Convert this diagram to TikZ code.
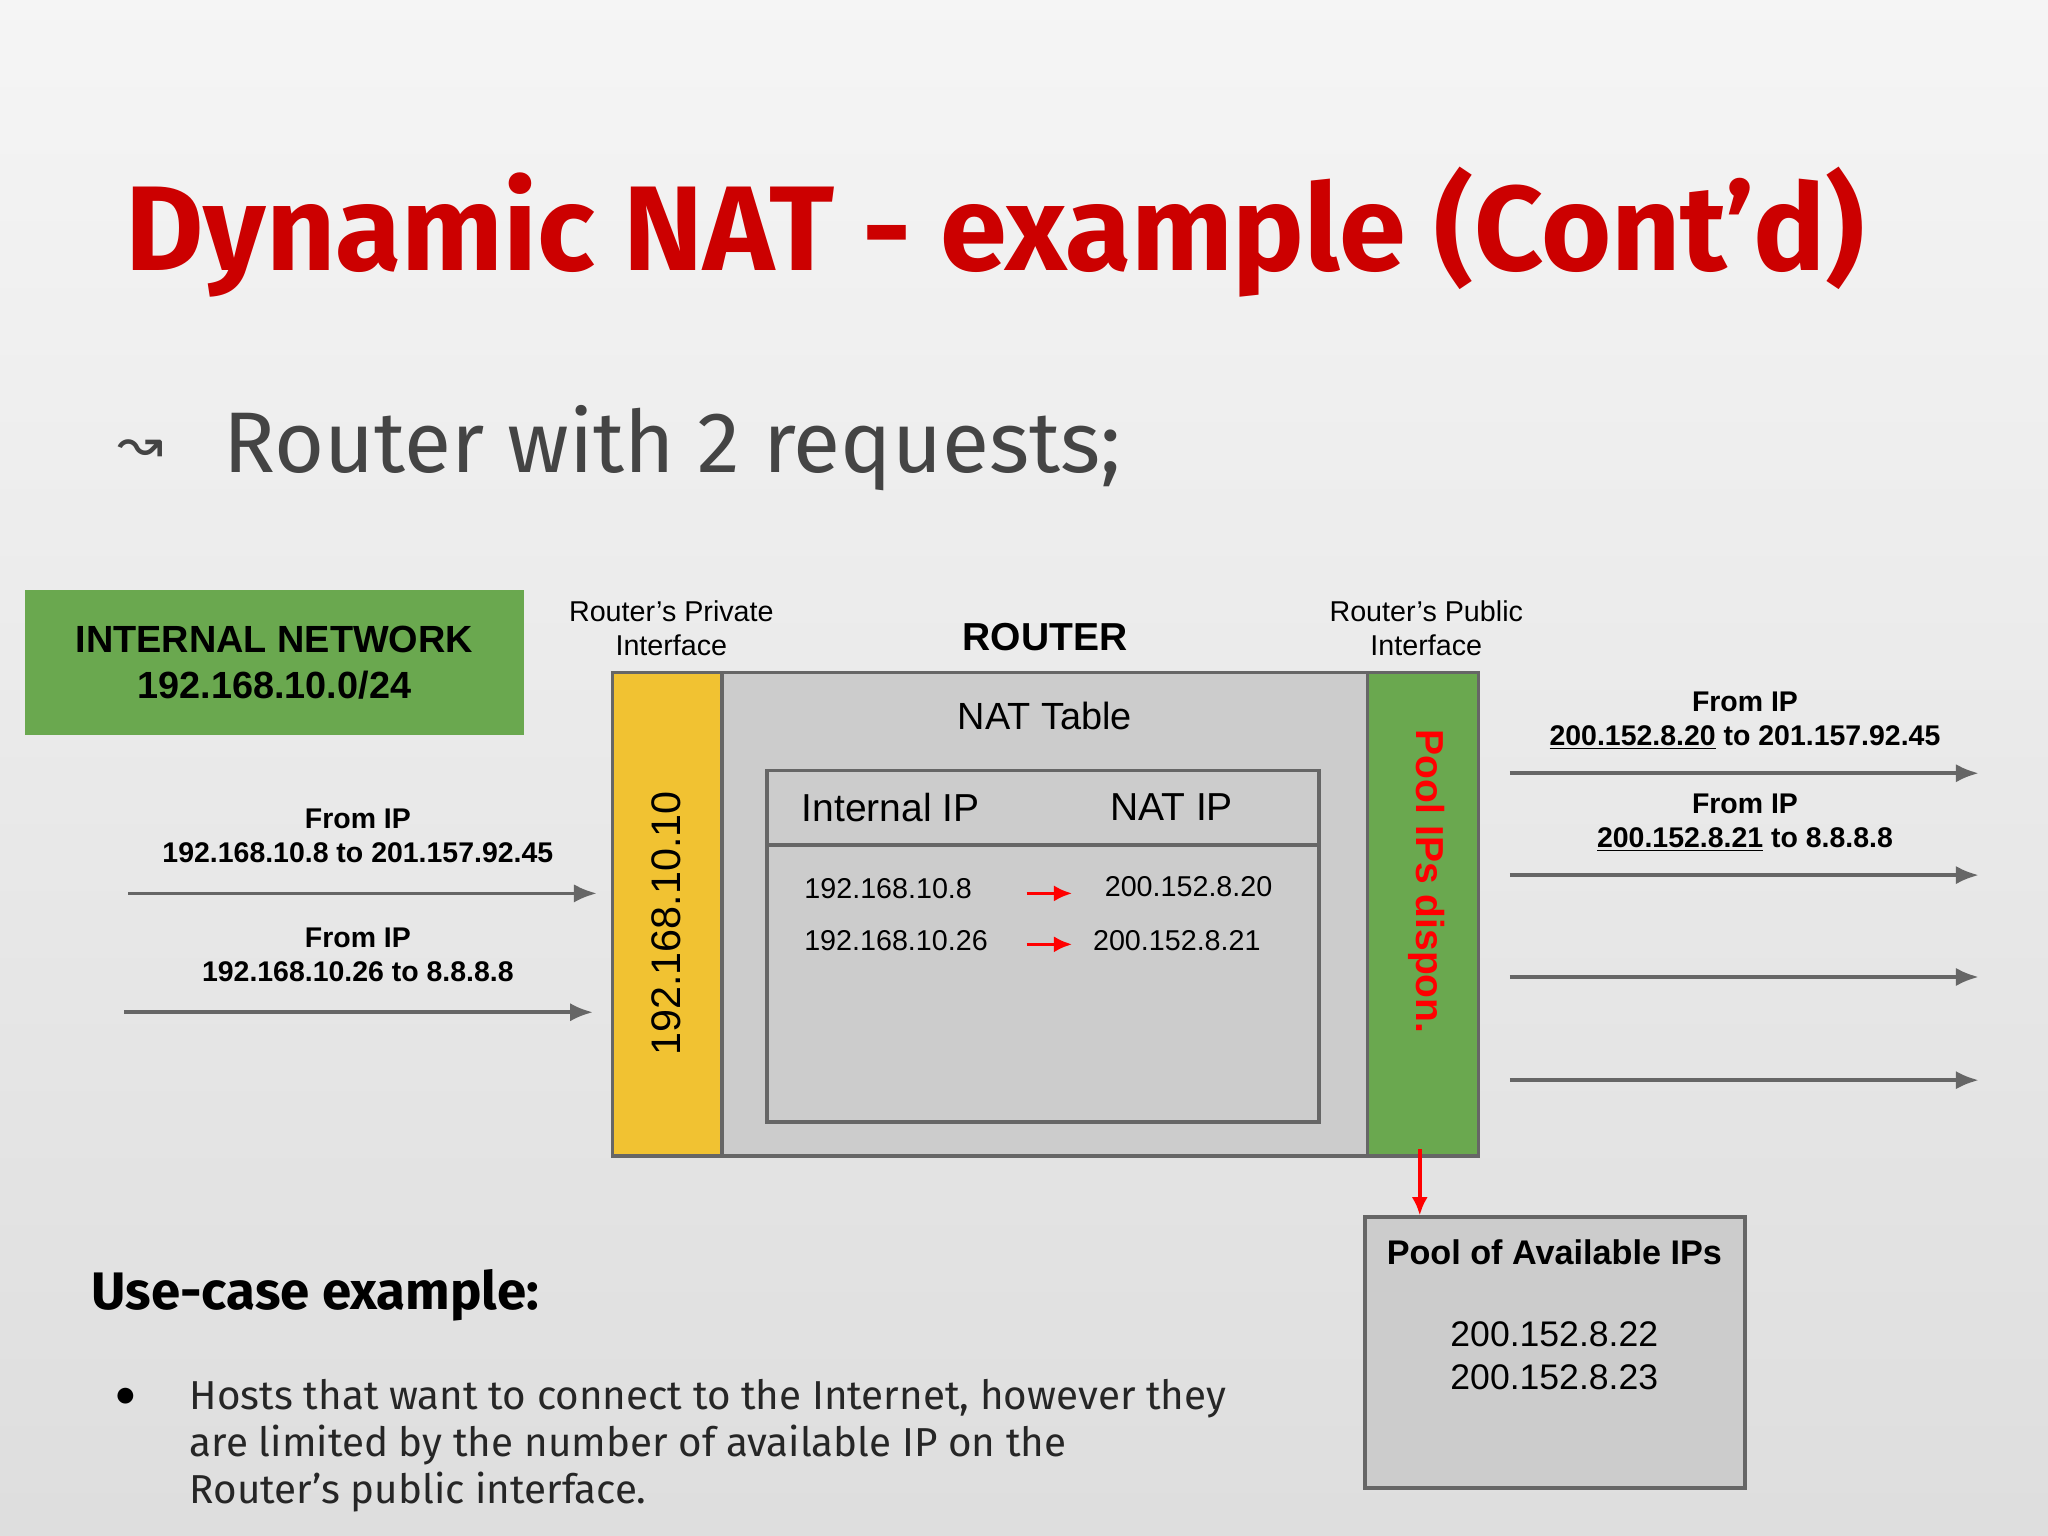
\documentclass[tikz,border=0pt]{standalone}
\usepackage{fontspec}
\setmainfont{Liberation Sans}
\newfontfamily\ubu{Fira Sans}
\newfontfamily\dejavu{DejaVu Sans}
\usetikzlibrary{arrows.meta}
\definecolor{tred}{HTML}{CC0000}
\definecolor{gbox}{HTML}{6AA84F}
\definecolor{ybox}{HTML}{F1C232}
\definecolor{rgray}{HTML}{CCCCCC}
\definecolor{edge}{HTML}{666666}
\definecolor{txt}{HTML}{444444}
\begin{document}
\begin{tikzpicture}[x=0.02cm,y=-0.02cm,
  fs/.style={font=\fontsize{#1}{1.2\dimexpr#1pt\relax}\selectfont},
  bfs/.style={font=\bfseries\fontsize{#1}{1.2\dimexpr#1pt\relax}\selectfont},
  garrow/.style={draw=edge,line width=1.6pt,-{Latex[length=10pt,width=8pt]}},
  rarrow/.style={draw=red,line width=1.6pt,-{Latex[length=8pt,width=7pt]}},
  boxs/.style={draw=edge,line width=1.6pt}]
\shade[top color=black!4,bottom color=black!13] (0,0) rectangle (1568,1176);
\useasboundingbox (0,0) rectangle (1568,1176);
\node[font=\ubu\bfseries\fontsize{52.5}{60}\selectfont,text=tred] (title) at (762,178) {Dynamic NAT - example (Cont’d)};
\node[anchor=west,font=\dejavu\fontsize{24}{26}\selectfont,text=txt] (bsym) at (84,345) {↝};
\node[anchor=west,font=\ubu\fontsize{37.5}{44}\selectfont,text=txt] (sub) at (165,343) {Router with 2 requests;};
\node[fill=gbox,minimum width=382*0.02cm,minimum height=111*0.02cm,align=center,bfs=16.5] (net) at (210,507.5) {INTERNAL NETWORK\\192.168.10.0/24};
% router
\draw[boxs,fill=rgray] (469,515) rectangle (1132,885);
\draw[boxs,fill=ybox] (469,515) rectangle (553,885);
\draw[boxs,fill=gbox] (1047,515) rectangle (1132,885);
\node[rotate=90,fs=18] (priv) at (510,707) {192.168.10.10};
\node[rotate=-90,bfs=17,text=red] (pub) at (1092,675) {Pool IPs dispon.};
\node[fs=16.5] (natt) at (800,548) {NAT Table};
\draw[boxs] (587,590) rectangle (1010,859);
\draw[boxs] (587,647) -- (1010,647);
\node[fs=17] (hi) at (682,618) {Internal IP};
\node[fs=17] (hn) at (897,618) {NAT IP};
\node[fs=12.5] (r1a) at (680,680) {192.168.10.8};
\node[fs=12.5] (r1b) at (910,679) {200.152.8.20};
\node[fs=12.5] (r2a) at (686,720) {192.168.10.26};
\node[fs=12.5] (r2b) at (901,720) {200.152.8.21};
\coordinate (a1s) at (786,684); \coordinate (a1e) at (821,684);
\coordinate (a2s) at (786,723); \coordinate (a2e) at (821,723);
\draw[rarrow] (a1s) -- (a1e);
\draw[rarrow] (a2s) -- (a2e);
\node[fs=12.5,align=center] (lp) at (514,481) {Router’s Private\\Interface};
\node[bfs=17] (rt) at (800,488) {ROUTER};
\node[fs=12.5,align=center] (lpub) at (1092,481) {Router’s Public\\Interface};
% left
\coordinate (l1s) at (98,684); \coordinate (l1e) at (457,684);
\coordinate (l2s) at (95,775); \coordinate (l2e) at (454,775);
\draw[garrow] (l1s) -- (l1e);
\draw[garrow] (l2s) -- (l2e);
\node[bfs=12.4,align=center] (lt1) at (274,640) {From IP\\192.168.10.8 to 201.157.92.45};
\node[bfs=12.4,align=center] (lt2) at (274,731) {From IP\\192.168.10.26 to 8.8.8.8};
% right
\foreach \y/\n in {592/1,670/2,748/3,827/4}{
  \coordinate (rs\n) at (1156,\y); \coordinate (re\n) at (1515,\y);
  \draw[garrow] (rs\n) -- (re\n);}
\node[bfs=12.4,align=center] (rt1) at (1336,552) {From IP\\\underline{200.152.8.20} to 201.157.92.45};
\node[bfs=12.4,align=center] (rt2) at (1336,630) {From IP\\\underline{200.152.8.21} to 8.8.8.8};
% pool
\node[boxs,fill=rgray,minimum width=291*0.02cm,minimum height=207*0.02cm] (pool) at (1190.5,1035.5) {};
\node[bfs=14.9] (pt) at (1190,959) {Pool of Available IPs};
\node[fs=15.5,align=center] (pips) at (1190,1038) {200.152.8.22\\200.152.8.23};
\coordinate (ds) at (1087,880);
\draw[rarrow] (ds) -- (pool.north -| ds);
% use case
\node[anchor=west,font=\ubu\bfseries\fontsize{23}{28}\selectfont] (uc) at (64,992) {Use-case example:};
\node[fs=16] (dot) at (96,1070) {●};
\node[anchor=north west,align=left,font=\ubu\fontsize{17.6}{20.4}\selectfont,text=black!85,inner sep=0] (bt) at (145,1056) {Hosts that want to connect to the Internet, however they\\are limited by the number of available IP on the\\Router’s public interface.};
\end{tikzpicture}
\end{document}
